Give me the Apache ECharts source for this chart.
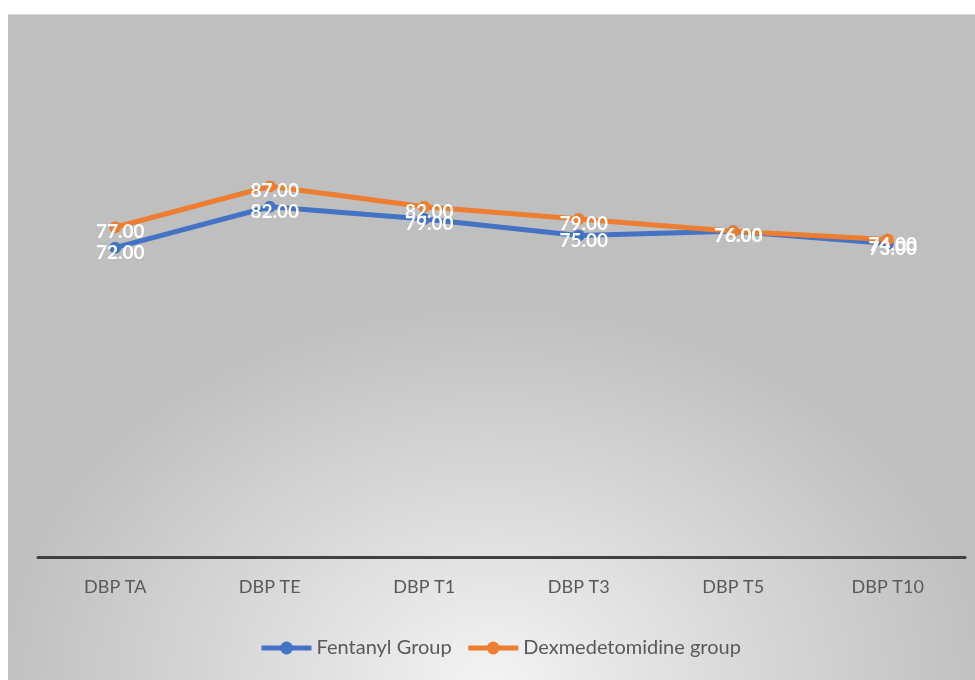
<!DOCTYPE html>
<html>
<head>
<meta charset="utf-8">
<script src="https://cdn.jsdelivr.net/npm/echarts@6/dist/echarts.min.js"></script>
<style>
  html, body { margin: 0; padding: 0; background: #ffffff; }
  #bg { position: absolute; left: 8px; top: 14px; width: 967px; height: 666px;
        border-top: 1px solid #d9d9d9; box-sizing: border-box;
        background: radial-gradient(ellipse 500px 380px at 50% 100%, #f3f3f3 0%, #bfbfbf 100%); }
  #chart { position: absolute; left: 0; top: 0; width: 975px; height: 680px; }
</style>
</head>
<body>
<div id="bg"></div>
<div id="chart"></div>
<script>
const categories = ["DBP TA", "DBP TE", "DBP T1", "DBP T3", "DBP T5", "DBP T10"];
const fentanylValues = [72, 82, 79, 75, 76, 73];
const dexmedetomidineValues = [77, 87, 82, 79, 76, 74];
const seriesNames = ["Fentanyl Group", "Dexmedetomidine group"];

const chart = echarts.init(document.getElementById('chart'), null, { renderer: 'canvas' });

const labelStyle = {
  show: true,
  position: 'inside',
  offset: [5, 5],
  color: '#ffffff',
  fontFamily: 'Lato',
  fontWeight: 'bold',
  fontSize: 19,
  formatter: p => Number(p.value).toFixed(2)
};

chart.setOption({
  backgroundColor: 'transparent',
  animation: false,
  grid: { left: 38, right: 10, top: 133, bottom: 123 },
  xAxis: {
    type: 'category',
    data: categories,
    boundaryGap: true,
    axisLine: { show: true, onZero: false, lineStyle: { color: '#404040', width: 3 } },
    axisTick: { show: false },
    axisLabel: { color: '#595959', fontFamily: 'Lato', fontSize: 18, margin: 21 }
  },
  yAxis: {
    type: 'value',
    min: -3.5,
    max: 100,
    show: false,
    splitLine: { show: false }
  },
  legend: {
    top: 638,
    left: 259,
    padding: 0,
    itemWidth: 50,
    itemHeight: 16,
    itemGap: 14,
    lineStyle: { width: 5 },
    textStyle: { color: '#595959', fontFamily: 'Lato', fontSize: 20 },
    data: seriesNames
  },
  series: [
    {
      name: seriesNames[0],
      type: 'line',
      data: fentanylValues,
      color: '#4472C4',
      symbol: 'circle',
      symbolSize: 12,
      lineStyle: { width: 5, color: '#4472C4' },
      itemStyle: { color: '#4472C4' },
      label: labelStyle
    },
    {
      name: seriesNames[1],
      type: 'line',
      data: dexmedetomidineValues,
      color: '#ED7D31',
      symbol: 'circle',
      symbolSize: 12,
      lineStyle: { width: 5, color: '#ED7D31' },
      itemStyle: { color: '#ED7D31' },
      label: labelStyle
    }
  ]
});
</script>
</body>
</html>
